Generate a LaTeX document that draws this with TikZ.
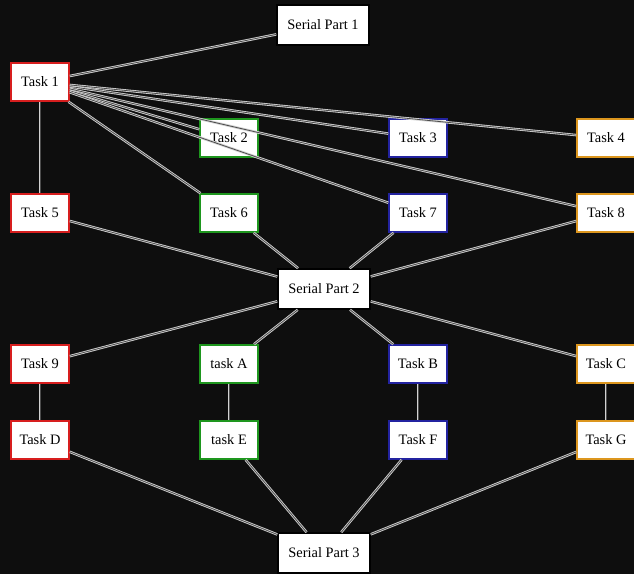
\documentclass[tikz,border=0pt]{standalone}
\usepackage{fontspec}
\setmainfont{Liberation Serif}
\begin{document}
\definecolor{bgdark}{RGB}{14,14,14}
\definecolor{tred}{RGB}{215,30,30}
\definecolor{tgreen}{RGB}{30,150,30}
\definecolor{tblue}{RGB}{35,35,160}
\definecolor{torange}{RGB}{220,150,30}
\definecolor{rim}{RGB}{120,140,140}
\begin{tikzpicture}[x=1pt,y=-1pt,
  box/.style={fill=white, line width=1.5pt, inner sep=2pt,
    font=\fontsize{14.4}{16}\selectfont, text=black,
    preaction={draw=rim, line width=2.6pt}},
  taskbox/.style={box, minimum width=58pt, minimum height=38pt},
  serialbox/.style={box, draw=black, minimum width=92pt, minimum height=40pt},
  redbox/.style={taskbox, draw=tred},
  greenbox/.style={taskbox, draw=tgreen},
  bluebox/.style={taskbox, draw=tblue},
  orangebox/.style={taskbox, draw=torange},
  link/.style={draw=gray!35!white, line width=0.85pt, double=black!70, double distance=0.8pt}
]
\useasboundingbox (0,0) rectangle (634,574);
\fill[bgdark] (0,0) rectangle (634,574);

% serial parts
\node[serialbox] (s1) at (323,25) {Serial Part 1};
\node[serialbox] (s2) at (324,289) {Serial Part 2};
\node[serialbox] (s3) at (324,553) {Serial Part 3};

% first parallel block
\node[redbox]    (t1) at (40,82)   {Task 1};
\node[greenbox]  (t2) at (229,138) {Task 2};
\node[bluebox]   (t3) at (418,138) {Task 3};
\node[orangebox] (t4) at (606,138) {Task 4};
\node[redbox]    (t5) at (40,213)  {Task 5};
\node[greenbox]  (t6) at (229,213) {Task 6};
\node[bluebox]   (t7) at (418,213) {Task 7};
\node[orangebox] (t8) at (606,213) {Task 8};

% second parallel block
\node[redbox]    (t9) at (40,364)  {Task 9};
\node[greenbox]  (tA) at (229,364) {task A};
\node[bluebox]   (tB) at (418,364) {Task B};
\node[orangebox] (tC) at (606,364) {Task C};
\node[redbox]    (tD) at (40,440)  {Task D};
\node[greenbox]  (tE) at (229,440) {task E};
\node[bluebox]   (tF) at (418,440) {Task F};
\node[orangebox] (tG) at (606,440) {Task G};

% connectors
\path[link] (t1) -- (s1);
\foreach \n in {t2,t3,t4,t5,t6,t7,t8} \path[link] (t1) -- (\n);
\foreach \n in {t5,t6,t7,t8} \path[link] (\n) -- (s2);
\foreach \n in {t9,tA,tB,tC} \path[link] (s2) -- (\n);
\path[link] (t9) -- (tD);
\path[link] (tA) -- (tE);
\path[link] (tB) -- (tF);
\path[link] (tC) -- (tG);
\foreach \n in {tD,tE,tF,tG} \path[link] (\n) -- (s3);
\end{tikzpicture}
\end{document}
